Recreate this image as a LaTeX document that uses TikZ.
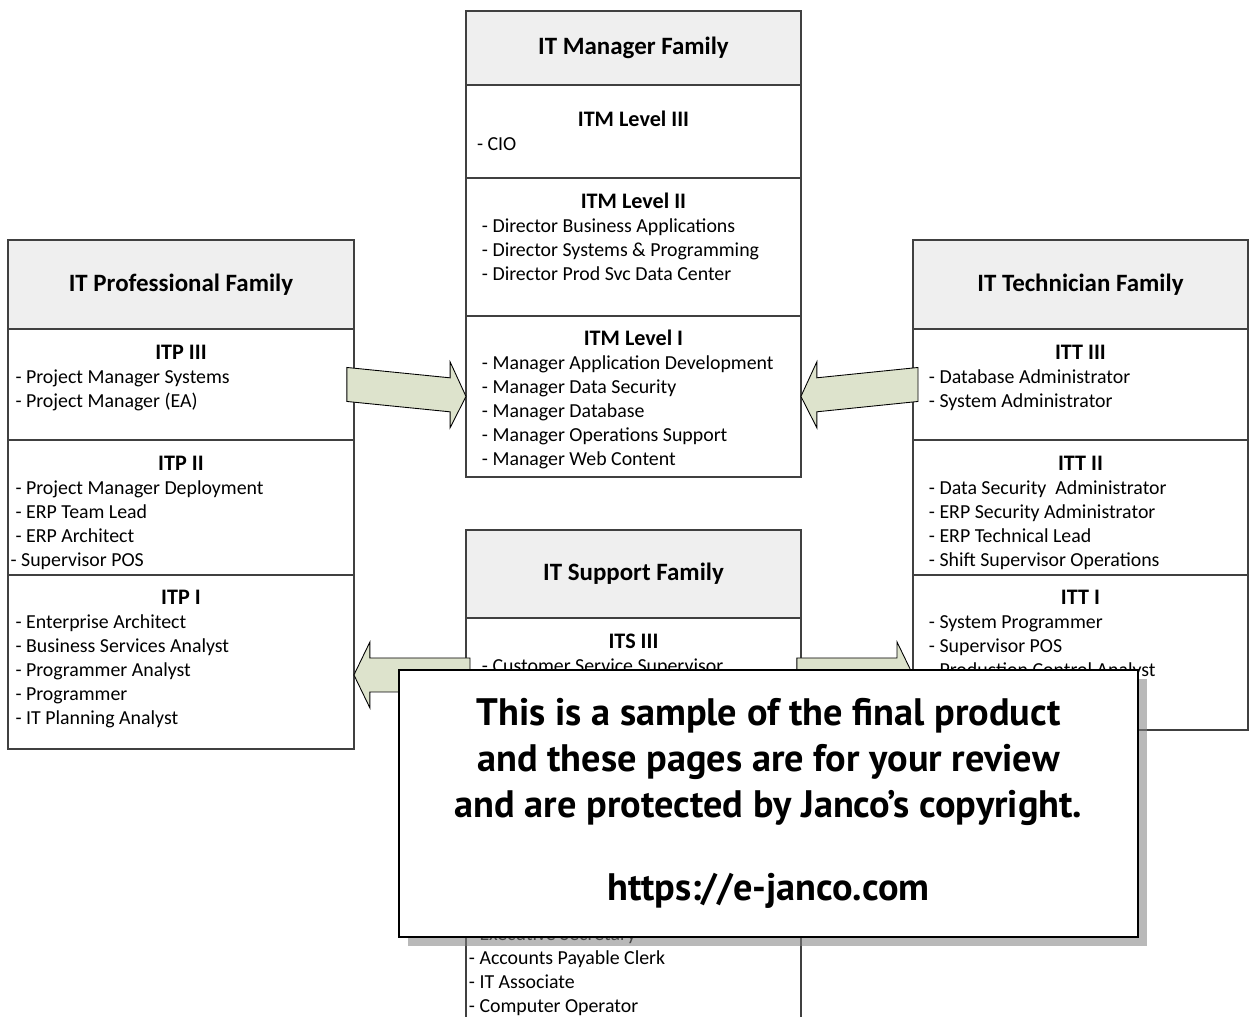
\documentclass[tikz,border=0pt]{standalone}
\usepackage{fontspec}
\setmainfont{Carlito}
\newfontfamily\stampfont{PT Sans}
\usetikzlibrary{positioning,calc,shadows}

\definecolor{boxline}{HTML}{404040}
\definecolor{headfill}{HTML}{EFEFEF}
\definecolor{arrowfill}{HTML}{DDE3CC}

\tikzset{
  famhead/.style={draw=boxline, line width=0.8pt, fill=headfill, inner sep=0pt, outer sep=0pt,
    font=\fontsize{14.2}{17}\selectfont\bfseries},
  famsect/.style={draw=boxline, line width=0.8pt, fill=white, inner sep=0pt, outer sep=0pt,
    font=\fontsize{11.3}{13.66}\selectfont},
  blockarr/.style={draw=black, line width=0.5pt, fill=arrowfill, line join=miter}
}

\newcommand{\levelbox}[5][9.1pt]{%
  \parbox[c][#3][t]{#2}{\centering\rule{0pt}{17.1pt}{\fontsize{12.6}{13.66}\selectfont\bfseries #4}\par
    \raggedright\leftskip=#1\relax #5}}

\newcommand{\blockarrow}[2]{%
  \draw[blockarr] let \p1=($(#2)!0.32cm!(#1)$) in
    ($(#1)+(0,17)$) -- ($(\p1)+(0,17)$) -- ($(\p1)+(0,33)$) -- (#2)
    -- ($(\p1)+(0,-33)$) -- ($(\p1)+(0,-17)$) -- ($(#1)+(0,-17)$) -- cycle;}

\begin{document}
\begin{tikzpicture}[x=0.02cm, y=-0.02cm]
  \useasboundingbox (0,0) rectangle (1249,1017);

  \node[famhead, minimum width=6.7cm, minimum height=1.48cm, anchor=north west] (mgrhead) at (466,11) {IT Manager Family};
  \node[famsect, below=0pt of mgrhead] (itm3) {\levelbox{6.7cm}{1.86cm}{\rule{0pt}{23.9pt}ITM Level III}{\hspace*{-2.8pt}- CIO}};
  \node[famsect, below=0pt of itm3] (itm2) {\levelbox{6.7cm}{2.76cm}{ITM Level II}{- Director Business Applications\\- Director Systems \& Programming\\- Director Prod Svc Data Center}};
  \node[famsect, below=0pt of itm2] (itm1) {\levelbox{6.7cm}{3.22cm}{ITM Level I}{- Manager Application Development\\- Manager Data Security\\- Manager Database\\- Manager Operations Support\\- Manager Web Content}};

  \node[famhead, minimum width=6.92cm, minimum height=1.78cm, anchor=north west] (profhead) at (8,240) {IT Professional Family};
  \node[famsect, below=0pt of profhead] (itp3) {\levelbox[4.3pt]{6.92cm}{2.22cm}{ITP III}{- Project Manager Systems\\- Project Manager (EA)}};
  \node[famsect, below=0pt of itp3] (itp2) {\levelbox[4.3pt]{6.92cm}{2.7cm}{ITP II}{- Project Manager Deployment\\- ERP Team Lead\\- ERP Architect\\\hspace*{-2.8pt}- Supervisor POS}};
  \node[famsect, below=0pt of itp2] (itp1) {\levelbox[4.3pt]{6.92cm}{3.48cm}{ITP I}{- Enterprise Architect\\- Business Services Analyst\\- Programmer Analyst\\- Programmer\\- IT Planning Analyst}};

  \node[famhead, minimum width=6.7cm, minimum height=1.78cm, anchor=north west] (techhead) at (913,240) {IT Technician Family};
  \node[famsect, below=0pt of techhead] (itt3) {\levelbox{6.7cm}{2.22cm}{ITT III}{- Database Administrator\\- System Administrator}};
  \node[famsect, below=0pt of itt3] (itt2) {\levelbox{6.7cm}{2.7cm}{ITT II}{- Data Security~ Administrator\\- ERP Security Administrator\\- ERP Technical Lead\\- Shift Supervisor Operations}};
  \node[famsect, below=0pt of itt2] (itt1) {\levelbox{6.7cm}{3.1cm}{ITT I}{- System Programmer\\- Supervisor POS\\- Production Control Analyst}};

  \node[famhead, minimum width=6.7cm, minimum height=1.76cm, anchor=north west] (suphead) at (466,530) {IT Support Family};
  \node[famsect, below=0pt of suphead] (its3) {\levelbox{6.7cm}{2.28cm}{ITS III}{- Customer Service Supervisor}};
  \node[famsect, below=0pt of its3] (itslow) {\parbox[c][6.16cm][t]{6.7cm}{\raggedright\leftskip=1.7pt\rule{0pt}{118.5pt}- Executive Secretary\\- Accounts Payable Clerk\\- IT Associate\\- Computer Operator}};

  \coordinate (profout) at ([xshift=-0.14cm]itp3.east);
  \coordinate (techout) at ([xshift=0.1cm]itt3.west);
  \coordinate (supleft) at ([xshift=0.08cm]its3.west);
  \coordinate (supright) at ([xshift=-0.08cm]its3.east);
  \coordinate (profin) at (itp1.east |- its3.west);
  \coordinate (techin) at (itt1.west |- its3.east);
  \blockarrow{profout}{itm1.west}
  \blockarrow{techout}{itm1.east}
  \blockarrow{supleft}{profin}
  \blockarrow{supright}{techin}

  \node[draw=black, line width=1.2pt, fill=white, minimum width=14.78cm, minimum height=5.34cm,
    drop shadow={shadow xshift=5pt, shadow yshift=-5pt, opacity=0.55}, align=center,
    font=\stampfont\bfseries\fontsize{21.8}{26.2}\selectfont] (stamp) at (768.5,803.5)
    {This is a sample of the final product\\and these pages are for your review\\and are protected by Janco’s copyright.\\[20.8pt]https://e-janco.com};
\end{tikzpicture}
\end{document}
